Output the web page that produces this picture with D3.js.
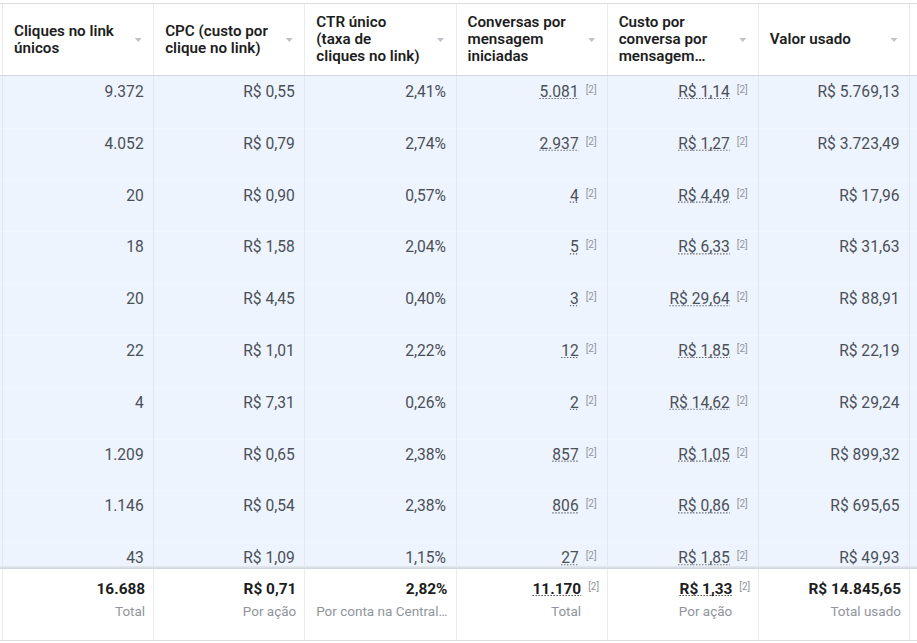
<!DOCTYPE html>
<html><head><meta charset="utf-8">
<script src="https://cdn.jsdelivr.net/npm/d3@7"></script>
<style>
body{margin:0;background:#fff;}
svg{display:block;font-family:Roboto,"Noto Sans",sans-serif;}
</style>
</head><body>
<svg id="c" width="917" height="643"></svg>
<script>
// ---- data ----
const headerLines = [
  ["Cliques no link", "únicos"],
  ["CPC (custo por", "clique no link)"],
  ["CTR único", "(taxa de", "cliques no link)"],
  ["Conversas por", "mensagem", "iniciadas"],
  ["Custo por", "conversa por", "mensagem…"],
  ["Valor usado"]
];
const uniqueClicks = [9372, 4052, 20, 18, 20, 22, 4, 1209, 1146, 43];
const cpc = [0.55, 0.79, 0.90, 1.58, 4.45, 1.01, 7.31, 0.65, 0.54, 1.09];
const ctr = [2.41, 2.74, 0.57, 2.04, 0.40, 2.22, 0.26, 2.38, 2.38, 1.15];
const conversations = [5081, 2937, 4, 5, 3, 12, 2, 857, 806, 27];
const costPerConversation = [1.14, 1.27, 4.49, 6.33, 29.64, 1.85, 14.62, 1.05, 0.86, 1.85];
const amountSpent = [5769.13, 3723.49, 17.96, 31.63, 88.91, 22.19, 29.24, 899.32, 695.65, 49.93];
const totals = [16688, 0.71, 2.82, 11170, 1.33, 14845.65];
const totalLabels = ["Total", "Por ação", "Por conta na Central…", "Total", "Por ação", "Total usado"];
const footnote = "[2]";

// ---- formatting ----
const loc = d3.formatLocale({decimal: ",", thousands: ".", grouping: [3], currency: ["R$ ", ""]});
const fInt = loc.format(",d");
const fCur = loc.format("$,.2f");
const fPct = v => loc.format(",.2f")(v) + "%";
const colFormats = [fInt, fCur, fPct, fInt, fCur, fCur];
const colHasNote = [false, false, false, true, true, false];
const colSeries = [uniqueClicks, cpc, ctr, conversations, costPerConversation, amountSpent];
const nRows = uniqueClicks.length;

// ---- scales ----
const W = 917, H = 643;
const x = d3.scaleBand().domain(d3.range(6)).range([2, 909]);
const y = d3.scaleBand().domain(d3.range(nRows)).range([76, 76 + nRows * 51.8]);
const bw = x.bandwidth();
const footTop = 568, footBottom = 640;
const edge = d => Math.round(d < 6 ? x(d) : x(5) + bw) + 0.5;

const svg = d3.select("#c");
const defs = svg.append("defs");
defs.append("clipPath").attr("id", "body").append("rect")
  .attr("x", 0).attr("y", 76).attr("width", W).attr("height", footTop - 76);
const g = defs.append("linearGradient").attr("id", "sh").attr("x1", 0).attr("x2", 0).attr("y1", 0).attr("y2", 1);
g.append("stop").attr("offset", 0).attr("stop-color", "#e6ebf2");
g.append("stop").attr("offset", 1).attr("stop-color", "#cdd2d9");

// header
svg.append("rect").attr("x", 0).attr("y", 0).attr("width", W).attr("height", 76).attr("fill", "#fff");
svg.append("line").attr("x1", 0).attr("x2", W).attr("y1", 3.5).attr("y2", 3.5).attr("stroke", "#dddfe2");

// body
const body = svg.append("g").attr("clip-path", "url(#body)");
body.append("rect").attr("x", 0).attr("y", 76).attr("width", W).attr("height", footTop - 76).attr("fill", "#edf4fe");
body.selectAll("line.sep").data(d3.range(1, nRows)).join("line")
  .attr("x1", 0).attr("x2", W)
  .attr("y1", d => Math.round(y(d)) + 0.5).attr("y2", d => Math.round(y(d)) + 0.5)
  .attr("stroke", "#f3f7fd");
body.selectAll("line.v").data(d3.range(7)).join("line")
  .attr("x1", edge).attr("x2", edge)
  .attr("y1", 76).attr("y2", footTop).attr("stroke", "#e0e7f0");

// header dividers
svg.selectAll("line.hv").data(d3.range(7)).join("line")
  .attr("x1", edge).attr("x2", edge)
  .attr("y1", 4).attr("y2", 75).attr("stroke", "#e9ebee");
svg.append("line").attr("x1", 0).attr("x2", W).attr("y1", 75.5).attr("y2", 75.5).attr("stroke", "#d3d7dd");

// header labels
const hdr = svg.selectAll("g.h").data(headerLines).join("g")
  .attr("transform", (d, i) => `translate(${x(i)},0)`);
hdr.each(function(lines) {
  const n = lines.length;
  d3.select(this).selectAll("text").data(lines).join("text")
    .attr("x", 12)
    .attr("y", (d, j) => 44 + (j - (n - 1) / 2) * 17)
    .attr("font-size", 15.2).attr("font-weight", 600).attr("fill", "#1c1e21")
    .text(d => d);
});
hdr.append("path")
  .attr("d", `M${bw - 18.5},38 L${bw - 11.5},38 L${bw - 15},42 Z`)
  .attr("fill", "#bec3c9");

// cell text
function drawCell(sel, txt, cx, baseline, rightPad, hasNote, opts) {
  const rightX = cx - rightPad;
  const t = sel.append("text").attr("x", rightX).attr("y", baseline)
    .attr("text-anchor", "end").attr("font-size", opts.size).attr("font-weight", opts.weight)
    .attr("fill", opts.color).text(txt);
  if (hasNote) {
    sel.append("text").attr("x", rightX + 7).attr("y", baseline - 4)
      .attr("font-size", 10).attr("fill", "#90949c").text(footnote);
    const len = t.node().getComputedTextLength();
    sel.append("line").attr("x1", rightX - len).attr("x2", rightX)
      .attr("y1", baseline + 1.5).attr("y2", baseline + 1.5)
      .attr("stroke", opts.color).attr("stroke-width", 1.1).attr("stroke-dasharray", "1.2,1.8");
  }
}
colSeries.forEach((series, c) => {
  series.forEach((v, r) => {
    const cell = body.append("g");
    drawCell(cell, colFormats[c](v), x(c) + bw, y(r) + 21, colHasNote[c] ? 28 : 9.5, colHasNote[c],
      {size: 15.6, weight: 400, color: "#4b4f56"});
  });
});

// footer
svg.append("rect").attr("x", 0).attr("y", footTop).attr("width", W).attr("height", H - footTop).attr("fill", "#fff");
svg.append("rect").attr("x", 0).attr("y", footTop - 2).attr("width", W).attr("height", 3).attr("fill", "url(#sh)");
svg.selectAll("line.fv").data(d3.range(7)).join("line")
  .attr("x1", edge).attr("x2", edge)
  .attr("y1", footTop + 1).attr("y2", footBottom).attr("stroke", "#e9ebee");
svg.append("line").attr("x1", 0).attr("x2", W).attr("y1", footBottom + 0.5).attr("y2", footBottom + 0.5).attr("stroke", "#dddfe2");
totals.forEach((v, c) => {
  const cell = svg.append("g");
  const pad = colHasNote[c] ? 25.5 : 8;
  drawCell(cell, colFormats[c](v), x(c) + bw, 594, pad, colHasNote[c],
    {size: 15.4, weight: 700, color: "#1c1e21"});
  cell.append("text").attr("x", x(c) + bw - pad).attr("y", 616)
    .attr("text-anchor", "end").attr("font-size", 13.5).attr("fill", "#90949c")
    .text(totalLabels[c]);
});
</script>
</body></html>
